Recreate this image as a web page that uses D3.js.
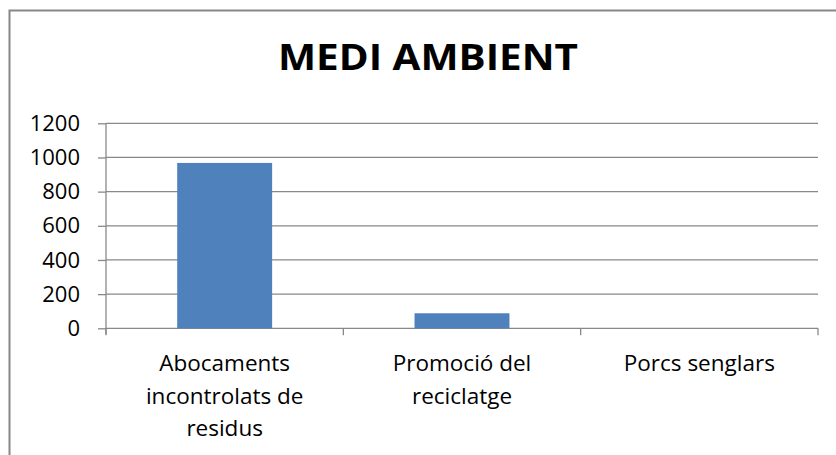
<!DOCTYPE html>
<html>
<head>
<meta charset="utf-8">
<script src="https://cdn.jsdelivr.net/npm/d3@7"></script>
<style>
  body { margin: 0; background: #fff; }
  text { font-family: "Open Sans", "Liberation Sans", sans-serif; fill: #000; }
</style>
</head>
<body>
<script>
var categories = [
    ["Abocaments", "incontrolats de", "residus"],
    ["Promoció del", "reciclatge"],
    ["Porcs senglars"]
];
var values = [968, 88, 0];
var yTicks = [0, 200, 400, 600, 800, 1000, 1200];
var title = "MEDI AMBIENT";

var W = 836, H = 455;
var margin = {top: 123.3, right: 18, bottom: 126.7, left: 106},
    width = W - margin.left - margin.right,
    height = H - margin.top - margin.bottom;

var svg = d3.select("body").append("svg")
    .attr("width", W)
    .attr("height", H);

// chart frame
svg.append("rect")
    .attr("x", 9.5)
    .attr("y", 10.5)
    .attr("width", 850)
    .attr("height", 460)
    .attr("fill", "none")
    .attr("stroke", "#878787")
    .attr("stroke-width", 2);

svg.append("text")
    .attr("x", 428)
    .attr("y", 70)
    .attr("text-anchor", "middle")
    .attr("textLength", 300)
    .attr("lengthAdjust", "spacingAndGlyphs")
    .style("font-size", "36px")
    .style("font-weight", "bold")
    .text(title);

var g = svg.append("g")
    .attr("transform", "translate(" + margin.left + "," + margin.top + ")");

var x = d3.scaleBand()
    .domain(d3.range(categories.length))
    .range([0, width])
    .paddingInner(0.6)
    .paddingOuter(0.3);

var y = d3.scaleLinear()
    .domain([0, 1200])
    .range([height, 0]);

// gridlines
g.append("g")
    .selectAll("line")
    .data(yTicks)
    .enter()
    .append("line")
    .attr("x1", 0)
    .attr("x2", width)
    .attr("y1", d => y(d))
    .attr("y2", d => y(d))
    .attr("stroke", "#888")
    .attr("stroke-width", 1.3);

// y axis
var yAxis = g.append("g")
    .call(d3.axisLeft(y).tickValues(yTicks).tickFormat(d3.format("d")).tickSize(8).tickPadding(18));
yAxis.select(".domain").attr("stroke", "#888").attr("stroke-width", 1.3)
    .attr("d", "M0," + (height + 6) + "V0");
yAxis.selectAll(".tick line").attr("stroke", "#888").attr("stroke-width", 1.3);
yAxis.selectAll(".tick text")
    .style("font-size", "22px")
    .style("font-family", "'Open Sans', sans-serif")
    .attr("fill", "#000");

// x axis ticks at category boundaries
var step = x.step();
var bounds = d3.range(categories.length + 1).map(i => i * step);
g.append("g")
    .selectAll("line")
    .data(bounds)
    .enter()
    .append("line")
    .attr("x1", d => d)
    .attr("x2", d => d)
    .attr("y1", height)
    .attr("y2", height + 7)
    .attr("stroke", "#888")
    .attr("stroke-width", 1.3);

// bars
g.append("g")
    .selectAll("rect")
    .data(values)
    .enter()
    .append("rect")
    .attr("x", (d, i) => x(i))
    .attr("y", d => y(d))
    .attr("width", x.bandwidth())
    .attr("height", d => height - y(d))
    .attr("fill", "#4f81bd");

// category labels
var labels = g.append("g")
    .selectAll("text")
    .data(categories)
    .enter()
    .append("text")
    .attr("x", (d, i) => i * step + step / 2)
    .attr("y", height + 43)
    .attr("text-anchor", "middle")
    .style("font-size", "22.5px");

labels.selectAll("tspan")
    .data(d => d)
    .enter()
    .append("tspan")
    .attr("x", function () { return d3.select(this.parentNode).attr("x"); })
    .attr("dy", (d, i) => i === 0 ? 0 : 32.3)
    .text(d => d);
</script>
</body>
</html>
